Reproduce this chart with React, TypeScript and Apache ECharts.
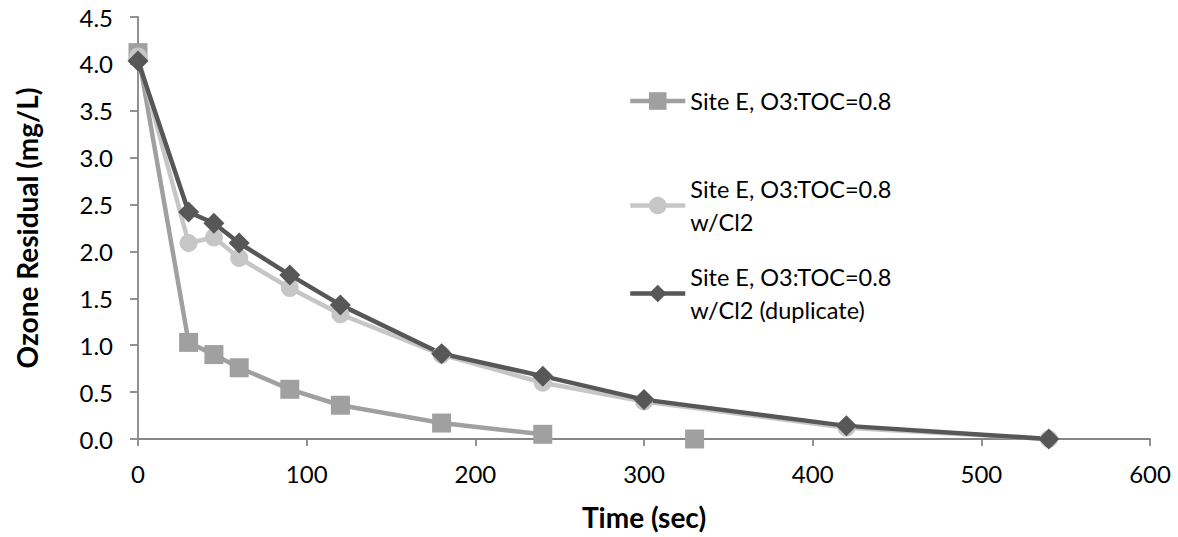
import React, { useEffect, useRef } from "react";
import * as echarts from "echarts";

const NAME_A = "Site E, O3:TOC=0.8";
const NAME_B = "Site E, O3:TOC=0.8\nw/Cl2";
const NAME_C = "Site E, O3:TOC=0.8\nw/Cl2 (duplicate)";

const timeA = [0, 30, 45, 60, 90, 120, 180, 240, 300, 330];
const ozoneA: (number | null)[] = [4.12, 1.03, 0.9, 0.76, 0.53, 0.36, 0.17, 0.05, null, 0.0];

const timeB = [0, 30, 45, 60, 90, 120, 180, 240, 300, 420, 540];
const ozoneB = [4.08, 2.09, 2.15, 1.93, 1.61, 1.33, 0.9, 0.6, 0.4, 0.12, 0.0];

const timeC = [0, 30, 45, 60, 90, 120, 180, 240, 300, 420, 540];
const ozoneC = [4.03, 2.42, 2.3, 2.09, 1.75, 1.43, 0.91, 0.67, 0.42, 0.14, 0.0];

const xTicks = { min: 0, max: 600, interval: 100 };
const yTicks = { min: 0, max: 4.5, interval: 0.5 };

const FONT = "Lato";

function pairs(xs: number[], ys: (number | null)[]) {
  return xs.map((x, i) => [x, ys[i] == null ? "-" : ys[i]]);
}

export default function App() {
  const ref = useRef<HTMLDivElement>(null);
  useEffect(() => {
    if (!ref.current) return;
    const chart = echarts.init(ref.current, undefined, { renderer: "svg" });
    const axisColor = "#868686";
    const lh = 33;
    const legendBase = {
      orient: "vertical",
      left: 628,
      padding: 0,
      itemWidth: 55,
      itemHeight: 22,
      itemGap: 0,
      lineStyle: { width: 4.5 },
      textStyle: { fontFamily: FONT, fontSize: 23.5, color: "#000", lineHeight: lh },
    };
    chart.setOption({
      animation: false,
      backgroundColor: "#fff",
      grid: { left: 138, right: 28, top: 17, bottom: 98, containLabel: false },
      xAxis: {
        type: "value",
        min: xTicks.min,
        max: xTicks.max,
        interval: xTicks.interval,
        name: "Time (sec)",
        nameLocation: "middle",
        nameGap: 64,
        nameTextStyle: { fontFamily: FONT, fontSize: 28, fontWeight: "bold", color: "#000" },
        axisLine: { show: true, lineStyle: { color: axisColor, width: 1.8 } },
        axisTick: { show: true, inside: false, length: 7, lineStyle: { color: axisColor, width: 1.8 } },
        axisLabel: { fontFamily: FONT, fontSize: 24, color: "#000", margin: 22 },
        splitLine: { show: false },
      },
      yAxis: {
        type: "value",
        min: yTicks.min,
        max: yTicks.max,
        interval: yTicks.interval,
        name: "Ozone Residual (mg/L)",
        nameLocation: "middle",
        nameGap: 97,
        nameTextStyle: { fontFamily: FONT, fontSize: 28, fontWeight: "bold", color: "#000" },
        axisLine: { show: true, lineStyle: { color: axisColor, width: 1.8 } },
        axisTick: { show: true, inside: false, length: 8, lineStyle: { color: axisColor, width: 1.8 } },
        axisLabel: {
          fontFamily: FONT,
          fontSize: 24,
          color: "#000",
          margin: 25,
          formatter: (v: number) => v.toFixed(1),
        },
        splitLine: { show: false },
      },
      legend: [
        { ...legendBase, top: 84.5, data: [NAME_A] },
        {
          ...legendBase,
          top: 156,
          data: [NAME_B],
          textStyle: { ...legendBase.textStyle, padding: [lh, 0, 0, 0] },
        },
        {
          ...legendBase,
          top: 244,
          data: [NAME_C],
          textStyle: { ...legendBase.textStyle, padding: [lh, 0, 0, 0] },
        },
      ],
      series: [
        {
          name: NAME_A,
          type: "line",
          data: pairs(timeA, ozoneA),
          connectNulls: false,
          symbol: "rect",
          symbolSize: 19,
          itemStyle: { color: "#a0a0a0" },
          lineStyle: { color: "#a0a0a0", width: 4.5 },
        },
        {
          name: NAME_B,
          type: "line",
          data: pairs(timeB, ozoneB),
          symbol: "circle",
          symbolSize: 18,
          itemStyle: { color: "#c6c6c6" },
          lineStyle: { color: "#c6c6c6", width: 4.5 },
        },
        {
          name: NAME_C,
          type: "line",
          data: pairs(timeC, ozoneC),
          symbol: "diamond",
          symbolSize: 21,
          itemStyle: { color: "#575757" },
          lineStyle: { color: "#575757", width: 4.5 },
        },
      ],
    });
    return () => chart.dispose();
  }, []);
  return (
    <div
      ref={ref}
      style={{ position: "fixed", left: 0, top: 0, width: 1178, height: 537 }}
    />
  );
}
